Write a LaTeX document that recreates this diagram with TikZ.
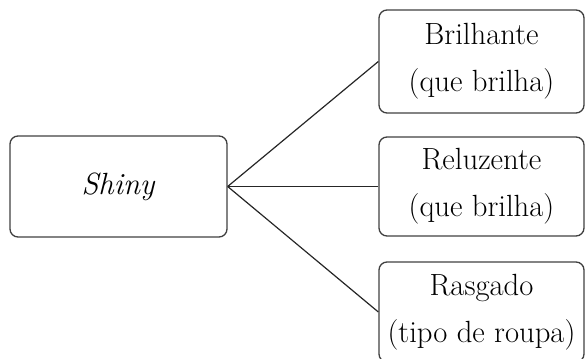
\documentclass[tikz,border=0pt]{standalone}
\usetikzlibrary{positioning}
\definecolor{edge}{HTML}{404040}

\begin{document}
\begin{tikzpicture}[x=0.75pt,y=-0.75pt,
    wordbox/.style={draw=edge,line width=1pt,rounded corners=6pt,inner sep=0pt,
      align=center,font=\fontsize{23}{35}\selectfont},
    link/.style={draw=black!85,line width=0.9pt}]
  \useasboundingbox (0,0) rectangle (585,359);
  % source word
  \node[wordbox,minimum width=162.75pt,minimum height=75.75pt] (shiny) at (118.5,186.5) {\textit{Shiny}};
  % meanings
  \node[wordbox,minimum width=153.75pt,minimum height=77.25pt] (brilhante) at (481.5,61.5) {Brilhante\\(que brilha)};
  \node[wordbox,minimum width=153.75pt,minimum height=74.25pt] (reluzente) at (481.5,186.5) {Reluzente\\(que brilha)};
  \node[wordbox,minimum width=153.75pt,minimum height=75pt] (rasgado) at (481.5,312) {Rasgado\\(tipo de roupa)};
  \foreach \target in {brilhante,reluzente,rasgado}
    \draw[link] (shiny.east) -- (\target.west);
\end{tikzpicture}
\end{document}
